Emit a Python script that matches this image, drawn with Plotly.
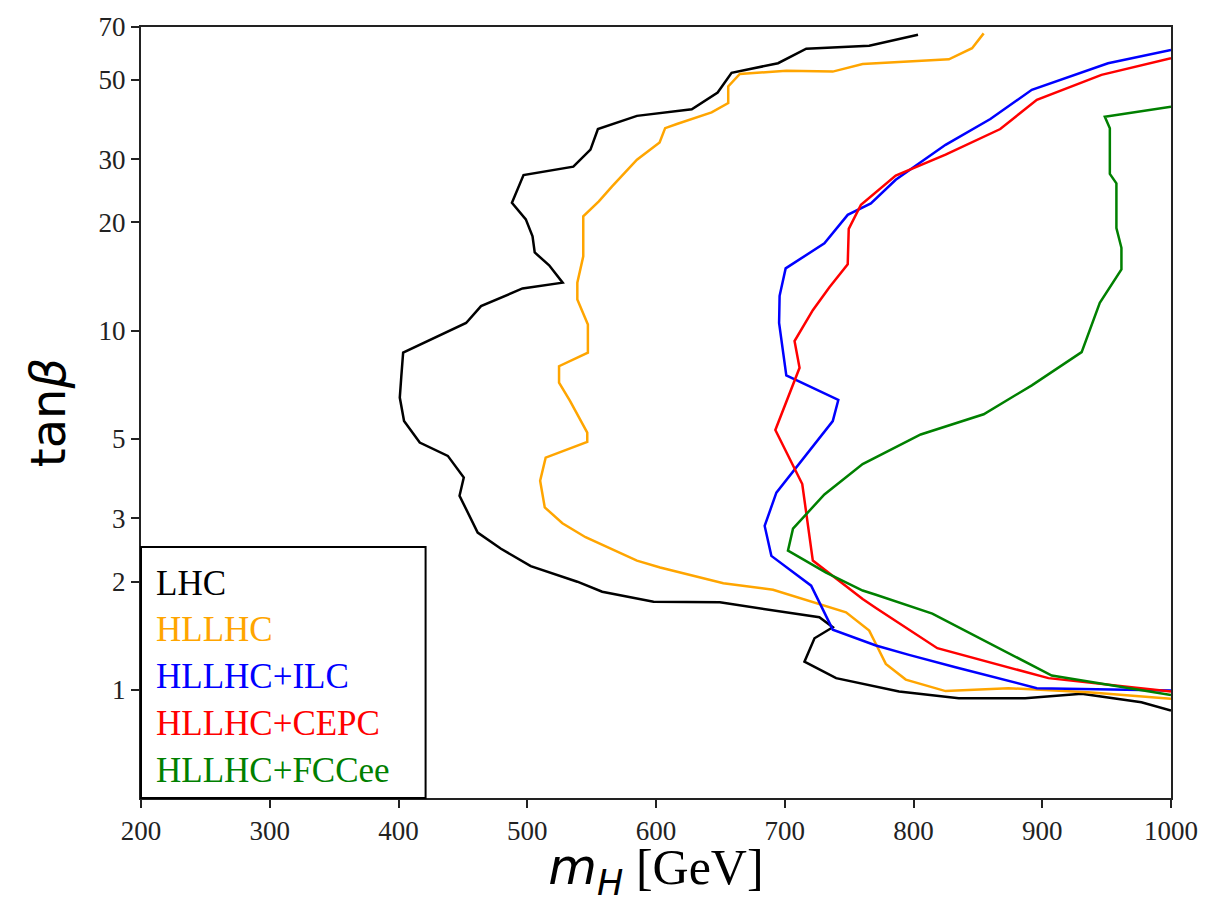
import plotly.graph_objects as go

# Exclusion contours in the (m_H, tan beta) plane
lhc_mh = [803.5, 794.0, 765.6, 716.7, 694.8, 658.7, 647.9, 627.8, 585.2, 554.9,
          549.1, 535.8, 497.1, 488.1, 498.9, 504.1, 505.8, 517.0, 527.5, 496.3,
          464.1, 452.5, 403.6, 402.2, 401.0, 404.3, 416.5, 438.3, 450.7, 447.4,
          461.5, 479.6, 502.7, 538.9, 558.2, 598.1, 649.6, 726.9, 737.3, 723.1,
          715.3, 739.9, 770.8, 788.8, 835.2, 886.7, 930.6, 977.0, 1000.0]
lhc_tanb = [66.6, 65.5, 62.1, 60.9, 55.5, 52.2, 46.0, 41.3, 39.6, 36.4,
            31.9, 28.6, 27.1, 22.7, 20.4, 18.3, 16.5, 15.2, 13.6, 13.1,
            11.7, 10.5, 8.68, 7.47, 6.51, 5.60, 4.88, 4.48, 3.90, 3.47,
            2.74, 2.47, 2.21, 2.00, 1.875, 1.759, 1.753, 1.592, 1.494, 1.392,
            1.198, 1.078, 1.023, 0.989, 0.948, 0.948, 0.975, 0.924, 0.876]

hllhc_mh = [854.5, 845.5, 827.5, 760.5, 737.3, 701.2, 665.1, 656.1, 656.1, 643.2,
            616.2, 607.1, 602.8, 585.2, 565.9, 555.6, 543.5, 543.5, 538.9, 538.9,
            547.1, 547.1, 524.7, 524.7, 533.2, 546.6, 546.6, 514.3, 510.0, 513.6,
            527.3, 545.3, 585.2, 603.2, 652.3, 690.9, 747.6, 765.6, 770.8, 778.5,
            794.0, 824.9, 873.8, 935.7, 1000.0]
hllhc_tanb = [67.2, 61.1, 56.9, 55.2, 52.6, 52.9, 51.8, 47.8, 43.0, 40.5,
              37.6, 36.6, 33.4, 29.9, 25.2, 22.9, 20.8, 16.1, 13.6, 12.2,
              10.4, 8.68, 7.96, 7.16, 6.37, 5.20, 4.90, 4.43, 3.82, 3.22,
              2.91, 2.66, 2.29, 2.19, 1.98, 1.90, 1.644, 1.462, 1.342, 1.181,
              1.068, 0.992, 1.011, 0.985, 0.944]

ilc_mh = [1000.0, 951.1, 891.9, 859.7, 824.9, 786.2, 766.9, 748.9, 730.8, 700.7,
          696.0, 695.6, 701.2, 741.6, 737.3, 693.5, 684.4, 689.6, 720.5, 737.3,
          770.8, 796.5, 832.6, 895.8, 1000.0]
ilc_tanb = [60.4, 55.5, 46.8, 38.8, 32.9, 26.3, 22.6, 21.0, 17.5, 14.9,
            12.5, 10.5, 7.50, 6.41, 5.60, 3.54, 2.86, 2.36, 1.95, 1.471,
            1.329, 1.251, 1.156, 1.011, 0.996]

cepc_mh = [1000.0, 946.0, 895.8, 867.4, 824.9, 786.2, 759.2, 749.7, 748.9, 734.7,
           721.8, 707.6, 711.5, 692.7, 713.6, 721.8, 760.5, 770.8, 818.5, 904.8,
           1000.0]
cepc_tanb = [57.3, 51.5, 43.9, 36.4, 30.9, 27.0, 22.4, 19.2, 15.3, 13.2,
             11.4, 9.35, 7.88, 5.29, 3.74, 2.29, 1.79, 1.69, 1.306, 1.078,
             0.989]

fccee_mh = [1000.0, 948.6, 952.5, 952.5, 957.6, 957.6, 961.5, 961.5, 944.7, 930.6,
            891.9, 854.5, 805.6, 760.5, 730.8, 706.4, 702.5, 732.1, 760.5, 770.8,
            814.6, 907.4, 1000.0]
fccee_tanb = [42.0, 39.4, 36.6, 27.3, 25.7, 19.3, 17.0, 14.8, 11.95, 8.71,
              7.04, 5.85, 5.14, 4.25, 3.50, 2.81, 2.44, 2.12, 1.89, 1.84,
              1.63, 1.096, 0.968]

names = ["LHC", "HLLHC", "HLLHC+ILC", "HLLHC+CEPC", "HLLHC+FCCee"]
colors = ["#000000", "#FFA500", "#0000FF", "#FF0000", "#008000"]
series = [(lhc_mh, lhc_tanb), (hllhc_mh, hllhc_tanb), (ilc_mh, ilc_tanb),
          (cepc_mh, cepc_tanb), (fccee_mh, fccee_tanb)]

x_ticks = [200, 300, 400, 500, 600, 700, 800, 900, 1000]
y_ticks = [1, 2, 3, 5, 10, 20, 30, 50, 70]

SERIF = "Liberation Serif"
SANS = "DejaVu Sans"

fig = go.Figure()
for name, color, (xs, ys) in zip(names, colors, series):
    fig.add_trace(go.Scatter(x=xs, y=ys, mode="lines", name=name,
                             line=dict(color=color, width=2.5),
                             showlegend=False))

# Text-only legend in a framed box at the lower left corner
fig.add_shape(type="rect", xref="paper", yref="paper",
              x0=0, x1=0.2763, y0=0, y1=0.3256,
              line=dict(color="black", width=2), fillcolor="white", layer="above")
legend_rows = [0.2785, 0.2179, 0.1574, 0.0969, 0.0363]
for name, color, yy in zip(names, colors, legend_rows):
    fig.add_annotation(xref="paper", yref="paper", x=0.0125, y=yy,
                       xanchor="left", yanchor="middle", showarrow=False,
                       text=name, font=dict(family=SERIF, size=35, color=color))

axis_common = dict(showline=True, linecolor="#222222", linewidth=2, mirror=True,
                   ticks="outside", ticklen=8, tickwidth=1.5, tickcolor="#222222",
                   showgrid=False, zeroline=False,
                   tickfont=dict(family=SERIF, size=27, color="#222222"))

fig.update_xaxes(range=[200, 1000], tickvals=x_ticks,
                 ticktext=[str(v) for v in x_ticks],
                 title=dict(text="<span style='font-family:DejaVu Sans'><i>m</i><sub><i>H</i></sub></span> [GeV]",
                            font=dict(family=SERIF, size=50, color="black"),
                            standoff=8),
                 **axis_common)
fig.update_yaxes(type="log", range=[-0.30103, 1.845098], tickvals=y_ticks,
                 ticktext=[str(v) for v in y_ticks],
                 title=dict(text="tan<i>β</i>",
                            font=dict(family=SANS, size=48, color="black"),
                            standoff=18),
                 **axis_common)

fig.update_layout(width=1210, height=903,
                  margin=dict(l=141, r=34, t=27, b=105),
                  plot_bgcolor="white", paper_bgcolor="white")

fig.write_html("out.html")
